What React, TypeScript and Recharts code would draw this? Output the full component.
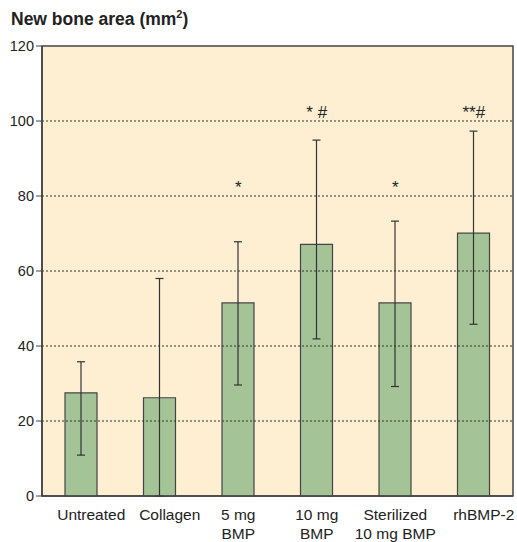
import React from 'react';
import { BarChart, Bar, XAxis, YAxis, ErrorBar, ReferenceLine, ReferenceArea, ReferenceDot } from 'recharts';

const groups = ['Untreated', 'Collagen', '5 mg\nBMP', '10 mg\nBMP', 'Sterilized\n10 mg BMP', 'rhBMP-2'];
const means = [27.5, 26.2, 51.5, 67.1, 51.5, 70.1];
const upper = [35.8, 58.0, 67.8, 94.9, 73.3, 97.3];
const lower = [10.9, 0, 29.6, 41.9, 29.2, 45.8];
const marks = ['', '', '*', '* #', '*', '**#'];
const markLevel = [0, 0, 82.5, 102.5, 82.5, 102.5];
const yTicks = [0, 20, 40, 60, 80, 100, 120];
const gridValues = [20, 40, 60, 80, 100];

const data = groups.map((g, i) => ({
  group: g,
  value: means[i],
  err: [means[i] - lower[i], upper[i] - means[i]],
}));

const font = '"Liberation Sans", Arial, sans-serif';

// single-line labels sit a little right of the bar centre in the original
const GroupTick = ({ x, y, payload }: any) => {
  const lines = String(payload.value).split('\n');
  const cx = lines.length === 1 ? x + 10 : x;
  return (
    <text x={cx} y={y + 16} textAnchor="middle" fontSize={15.5} fill="#222" fontFamily={font}>
      {lines.map((l, i) => (
        <tspan key={i} x={cx} dy={i === 0 ? 0 : 18.5}>{l}</tspan>
      ))}
    </text>
  );
};

const App: React.FC = () => {
  return (
    <div style={{ position: 'absolute', left: 0, top: 0, width: 517, height: 542, background: '#fff' }}>
      <div style={{ position: 'absolute', left: 11, top: 8, fontFamily: font, fontSize: 17.5, fontWeight: 600, color: '#222' }}>
        New bone area (mm<sup style={{ fontSize: 11 }}>2</sup>)
      </div>
      <BarChart
        width={517}
        height={542}
        data={data}
        margin={{ top: 46, right: 4, bottom: 16, left: 0 }}
        barCategoryGap="0%"
        barSize={32}
      >
        <ReferenceArea y1={0} y2={120} fill="#FEEFD3" fillOpacity={1} stroke="none" />
        {gridValues.map((v) => (
          <ReferenceLine key={v} y={v} stroke="#333" strokeDasharray="2 2" strokeWidth={1} />
        ))}
        <XAxis
          dataKey="group"
          tick={<GroupTick />}
          tickLine={false}
          axisLine={{ stroke: '#444', strokeWidth: 1.5 }}
          interval={0}
        />
        <YAxis
          width={42}
          domain={[0, 120]}
          ticks={yTicks}
          tickSize={6}
          tickLine={{ stroke: '#444' }}
          axisLine={{ stroke: '#444', strokeWidth: 1.5 }}
          tick={{ fontSize: 14.5, fill: '#222', fontFamily: font }}
        />
        <Bar dataKey="value" fill="#A4C396" stroke="#444" strokeWidth={1.2} isAnimationActive={false}>
          <ErrorBar dataKey="err" width={4} stroke="#333" strokeWidth={1.2} />
        </Bar>
        <ReferenceArea y1={0} y2={120} fill="none" stroke="#444" strokeWidth={1.5} />
        {groups.map((g, i) =>
          marks[i] ? (
            <ReferenceDot
              key={g}
              x={g}
              y={markLevel[i]}
              r={0}
              stroke="none"
              label={{ value: marks[i], position: 'center', fontSize: 17, fill: '#222', fontFamily: font }}
            />
          ) : null
        )}
      </BarChart>
    </div>
  );
};

export default App;
